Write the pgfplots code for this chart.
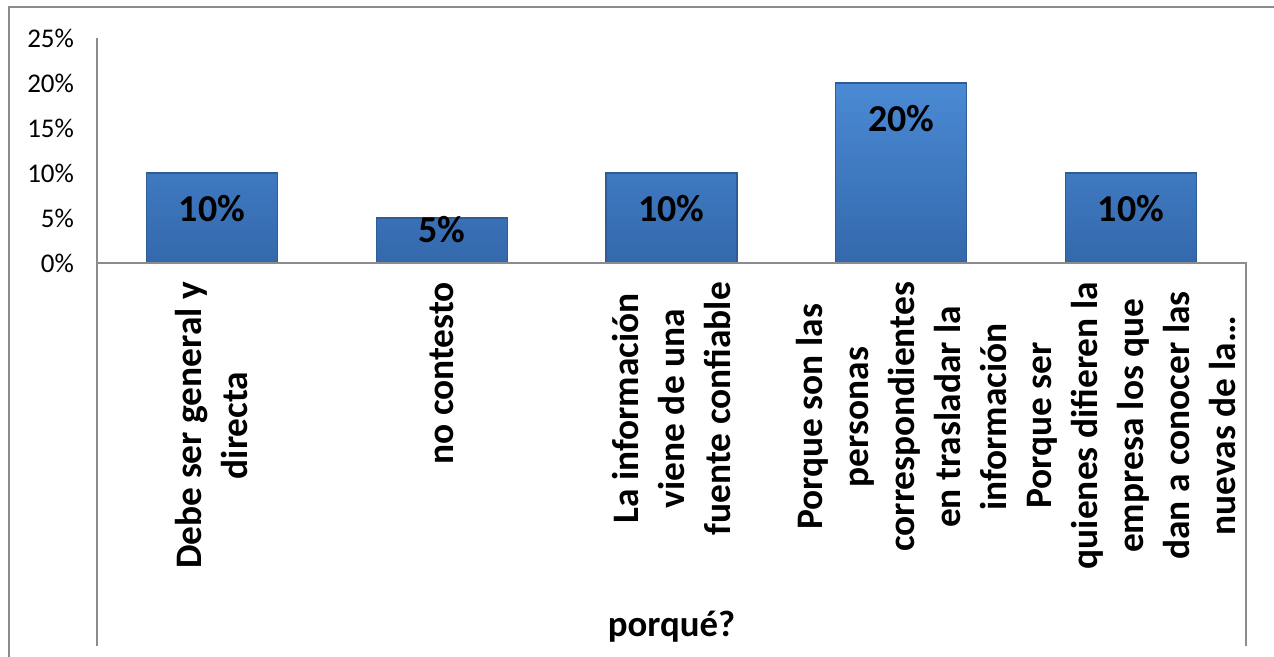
\documentclass[border=0pt]{standalone}
\usepackage{fontspec}
\setmainfont{Carlito}
\usepackage{pgfplots}
\usepackage{pgfplotstable}
\pgfplotsset{compat=1.18}
\definecolor{bartop}{HTML}{4A8AD4}
\definecolor{barbot}{HTML}{3468AC}
\definecolor{barline}{HTML}{2E5C96}
\definecolor{framegray}{HTML}{8C8C8C}
\pgfplotstableread{
x y off
0 10 -18
1 5 -6
2 10 -18
3 20 -18
4 10 -18
}\datatable
\begin{document}
\begin{tikzpicture}
\begin{axis}[
  scale only axis, width=574.5pt, height=112.5pt,
  xmin=-0.5, xmax=4.5, ymin=0, ymax=25,
  clip=false,
  axis line style={draw=none},
  tick style={draw=none},
  major tick length=0pt,
  /pgf/number format/assume math mode=true,
  ytick={0,5,10,15,20,25},
  yticklabel={\pgfmathprintnumber{\tick}\%},
  yticklabel style={font=\fontsize{13.5pt}{15pt}\selectfont, anchor=east, xshift=-8pt},
  xtick={0,1,2,3,4},
  xticklabels={{Debe ser general y\\directa},{no contesto},{La información\\viene de una\\fuente confiable},{Porque son las\\personas\\correspondientes\\en trasladar la\\información},{Porque ser\\quienes difieren la\\empresa los que\\dan a conocer las\\nuevas de la…}},
  xticklabel style={rotate=90, anchor=east, align=center, font=\bfseries\fontsize{18.7pt}{23pt}\selectfont, xshift=-6pt},
  xlabel={porqué?},
  xlabel style={font=\bfseries\fontsize{18.4pt}{22pt}\selectfont, at={(axis description cs:0.5,0)}, anchor=center, yshift=-182pt},
  nodes near coords={\pgfmathprintnumber{\pgfplotspointmeta}\%},
  point meta=y,
  visualization depends on={\thisrow{off}\as\off},
  every node near coord/.append style={font=\bfseries\fontsize{19pt}{22pt}\selectfont, anchor=center, yshift=\off pt, text=black},
]
\addplot[ybar, bar width=65.5pt, draw=barline, line width=0.6pt, top color=bartop, bottom color=barbot] table[x=x,y=y]{\datatable};
\draw[framegray, line width=1pt] (rel axis cs:0,1) -- (rel axis cs:0,-1.7022);
\draw[framegray, line width=1pt] (rel axis cs:0,0) -- (rel axis cs:1,0) -- (rel axis cs:1,-1.7022);
\draw[framegray, line width=1pt] (rel axis cs:-0.0766,-1.80) -- (rel axis cs:-0.0766,1.1378) -- (rel axis cs:1.05,1.1378);
\coordinate (bl) at (rel axis cs:-0.08442,-1.7467);
\coordinate (tr) at (rel axis cs:1.02437,1.16889);
\end{axis}
\pgfresetboundingbox
\useasboundingbox (bl) rectangle (tr);
\end{tikzpicture}
\end{document}
